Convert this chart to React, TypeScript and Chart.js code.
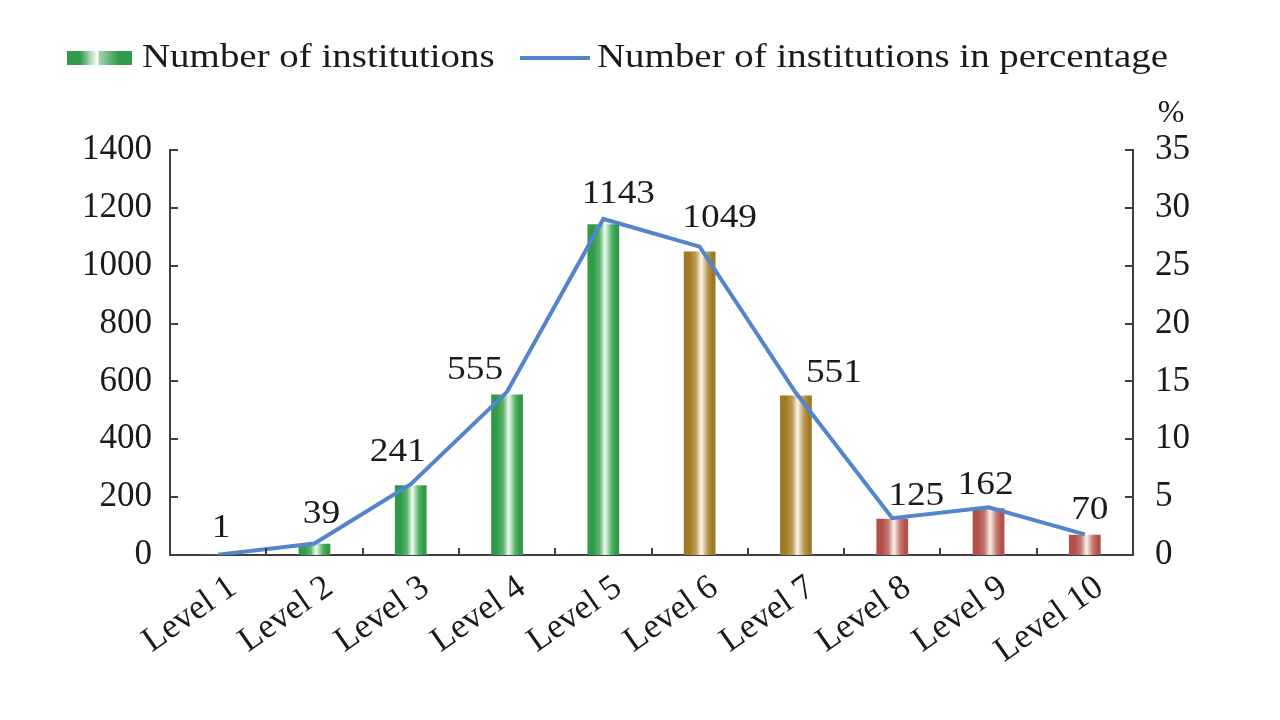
import React, { useEffect, useRef } from "react";
import { Chart, registerables } from "chart.js";

Chart.register(...registerables);

const categories = ["Level 1", "Level 2", "Level 3", "Level 4", "Level 5", "Level 6", "Level 7", "Level 8", "Level 9", "Level 10"];
const institutions = [1, 39, 241, 555, 1143, 1049, 551, 125, 162, 70];
const percentages = [0.03, 0.99, 6.12, 14.1, 29.04, 26.65, 14.0, 3.18, 4.12, 1.78];
const barGroups = ["green", "green", "green", "green", "green", "gold", "gold", "red", "red", "red"];
const leftAxisMax = 1400;
const leftAxisStep = 200;
const rightAxisMax = 35;
const rightAxisStep = 5;
const barLegendLabel = "Number of institutions";
const lineLegendLabel = "Number of institutions in percentage";
const rightAxisUnit = "%";

// label nudges (style only)
const labelNudgeX = [3, 7, -13, -32, 15, 20, 38, 24, -3, 5];
const labelGap = [18, 21, 24, 15, 21, 25, 14, 14, 14, 16];

const FONT = "'Liberation Serif', 'Times New Roman', Times, serif";
const TEXT = "#1a1a1a";
const AXIS = "#404040";
const LINE = "#5285cc";

const palettes: Record<string, { edge: string; mid: string; light: string }> = {
  green: { edge: "#2f9a47", mid: "#5bb56c", light: "#f2faf3" },
  gold: { edge: "#9e7a27", mid: "#bb9a52", light: "#fbf6ea" },
  red: { edge: "#b0514b", mid: "#c77a73", light: "#fbf0ee" },
};

function makeGradient(ctx: CanvasRenderingContext2D, x0: number, x1: number, group: string) {
  const p = palettes[group];
  const g = ctx.createLinearGradient(x0, 0, x1, 0);
  g.addColorStop(0, p.edge);
  g.addColorStop(0.18, p.edge);
  g.addColorStop(0.38, p.mid);
  g.addColorStop(0.55, p.light);
  g.addColorStop(0.75, p.mid);
  g.addColorStop(0.9, p.edge);
  g.addColorStop(1, p.edge);
  return g;
}

const gradientPlugin = {
  id: "barGradients",
  beforeDatasetsDraw(chart: any) {
    const meta = chart.getDatasetMeta(1);
    const ctx = chart.ctx;
    meta.data.forEach((el: any, i: number) => {
      const half = el.width / 2;
      el.options.backgroundColor = makeGradient(ctx, el.x - half, el.x + half, barGroups[i]);
    });
  },
};

const ticksPlugin = {
  id: "inwardTicks",
  afterDatasetsDraw(chart: any) {
    const ctx = chart.ctx;
    const { left, right, bottom } = chart.chartArea;
    const y = chart.scales.y;
    const y1 = chart.scales.y1;
    const x = chart.scales.x;
    ctx.save();
    ctx.strokeStyle = AXIS;
    ctx.lineWidth = 2;
    ctx.beginPath();
    for (let v = 0; v <= leftAxisMax; v += leftAxisStep) {
      const py = Math.round(y.getPixelForValue(v));
      ctx.moveTo(left, py);
      ctx.lineTo(left + 8, py);
    }
    for (let v = 0; v <= rightAxisMax; v += rightAxisStep) {
      const py = Math.round(y1.getPixelForValue(v));
      ctx.moveTo(right - 8, py);
      ctx.lineTo(right, py);
    }
    for (let i = 1; i < categories.length; i++) {
      const px = Math.round((x.getPixelForValue(i - 1) + x.getPixelForValue(i)) / 2);
      ctx.moveTo(px, bottom);
      ctx.lineTo(px, bottom - 7);
    }
    ctx.stroke();
    ctx.restore();
  },
};

function stretchedText(ctx: CanvasRenderingContext2D, text: string, x: number, y: number, sx: number) {
  ctx.save();
  ctx.translate(x, y);
  ctx.scale(sx, 1);
  ctx.fillText(text, 0, 0);
  ctx.restore();
}

const labelsPlugin = {
  id: "valueLabels",
  afterDatasetsDraw(chart: any) {
    const ctx = chart.ctx;
    const meta = chart.getDatasetMeta(1);
    ctx.save();
    ctx.font = `34px ${FONT}`;
    ctx.fillStyle = TEXT;
    ctx.textAlign = "center";
    ctx.textBaseline = "alphabetic";
    meta.data.forEach((el: any, i: number) => {
      stretchedText(ctx, String(institutions[i]), el.x + labelNudgeX[i], el.y - labelGap[i], 1.1);
    });
    ctx.restore();
  },
};

const legendPlugin = {
  id: "customLegend",
  afterDraw(chart: any) {
    const ctx = chart.ctx;
    const y1 = chart.scales.y1;
    const top = chart.chartArea.top;
    ctx.save();
    const bx = 67, by = 51, bw = 65, bh = 14;
    const g = ctx.createLinearGradient(bx, 0, bx + bw, 0);
    g.addColorStop(0, palettes.green.edge);
    g.addColorStop(0.2, palettes.green.edge);
    g.addColorStop(0.47, "#ffffff");
    g.addColorStop(0.5, "#9fd4a8");
    g.addColorStop(0.8, palettes.green.edge);
    g.addColorStop(1, palettes.green.edge);
    ctx.fillStyle = g;
    ctx.fillRect(bx, by, bw, bh);

    ctx.font = `33px ${FONT}`;
    ctx.fillStyle = TEXT;
    ctx.textAlign = "left";
    ctx.textBaseline = "alphabetic";
    stretchedText(ctx, barLegendLabel, 142, 67, 1.18);

    ctx.strokeStyle = LINE;
    ctx.lineWidth = 4;
    ctx.beginPath();
    ctx.moveTo(520, 58);
    ctx.lineTo(590, 58);
    ctx.stroke();
    stretchedText(ctx, lineLegendLabel, 597, 67, 1.18);

    ctx.textAlign = "center";
    ctx.font = `32px ${FONT}`;
    ctx.fillText(rightAxisUnit, y1.left + 38, top - 28);
    ctx.restore();
  },
};

export default function App() {
  const ref = useRef<HTMLCanvasElement | null>(null);
  useEffect(() => {
    if (!ref.current) return;
    const tickFont = { family: FONT, size: 35 };
    const plain = (v: any) => String(v);
    const chart = new Chart(ref.current, {
      type: "bar",
      data: {
        labels: categories,
        datasets: [
          {
            type: "line",
            label: lineLegendLabel,
            data: percentages,
            yAxisID: "y1",
            borderColor: LINE,
            backgroundColor: LINE,
            borderWidth: 4,
            pointRadius: 0,
            tension: 0,
            order: 0,
          } as any,
          {
            type: "bar",
            label: barLegendLabel,
            data: institutions,
            yAxisID: "y",
            backgroundColor: (c: any) => palettes[barGroups[c.dataIndex] || "green"].edge,
            borderWidth: 0,
            categoryPercentage: 1,
            barPercentage: 0.33,
            order: 1,
          },
        ],
      },
      options: {
        animation: false,
        responsive: true,
        maintainAspectRatio: false,
        layout: { padding: { top: 150, left: 0, right: 0, bottom: 0 } },
        plugins: { legend: { display: false }, tooltip: { enabled: false } },
        scales: {
          x: {
            grid: { display: false, drawTicks: false },
            border: { display: true, color: AXIS, width: 2 },
            ticks: { font: tickFont, color: TEXT, minRotation: 35, maxRotation: 35, padding: 12, labelOffset: 15, autoSkip: false },
            afterFit: (s: any) => { s.height = 165; },
          },
          y: {
            position: "left",
            min: 0,
            max: leftAxisMax,
            grid: { display: false, drawTicks: false },
            border: { display: true, color: AXIS, width: 2 },
            ticks: { stepSize: leftAxisStep, font: tickFont, color: TEXT, padding: 18, callback: plain },
            afterFit: (s: any) => { s.width = 170; },
          },
          y1: {
            position: "right",
            min: 0,
            max: rightAxisMax,
            grid: { display: false, drawTicks: false },
            border: { display: true, color: AXIS, width: 2 },
            ticks: { stepSize: rightAxisStep, font: tickFont, color: TEXT, padding: 22, callback: plain },
            afterFit: (s: any) => { s.width = 147; },
          },
        },
      },
      plugins: [gradientPlugin, ticksPlugin, labelsPlugin, legendPlugin],
    });
    return () => chart.destroy();
  }, []);

  return (
    <div style={{ position: "absolute", left: 0, top: 0, width: 1280, height: 720, background: "#ffffff" }}>
      <canvas ref={ref} />
    </div>
  );
}
